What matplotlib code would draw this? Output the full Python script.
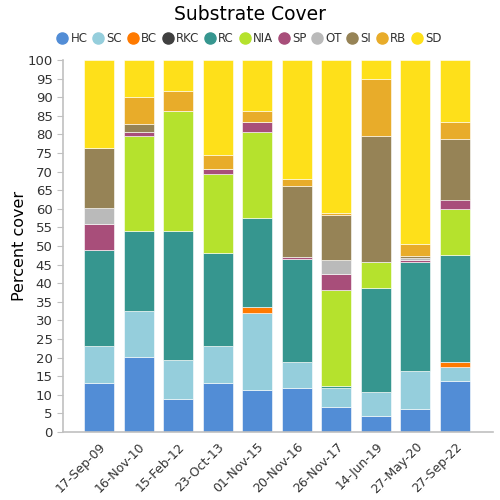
import numpy as np
import matplotlib.pyplot as plt

dates = ["17-Sep-09", "16-Nov-10", "15-Feb-12", "23-Oct-13", "01-Nov-15",
         "20-Nov-16", "26-Nov-17", "14-Jun-19", "27-May-20", "27-Sep-22"]

# percent cover per category, one value per survey date
HC  = [13.2, 20.2,  8.9, 13.2, 11.2, 11.9,  6.8,  4.4,  6.2, 13.8]
SC  = [ 9.9, 12.3, 10.5,  9.9, 20.8,  6.9,  5.1,  6.3, 10.1,  3.8]
BC  = [ 0.0,  0.0,  0.0,  0.0,  1.7,  0.0,  0.0,  0.0,  0.0,  1.1]
RKC = [ 0.0,  0.0,  0.0,  0.0,  0.0,  0.0,  0.0,  0.0,  0.0,  0.0]
RC  = [25.8, 21.5, 34.6, 25.1, 23.8, 27.6,  0.5, 28.1, 29.3, 28.8]
NIA = [ 0.0, 25.6, 32.3, 21.2, 23.1,  0.0, 25.8,  6.8,  0.0, 12.5]
SP  = [ 7.0,  1.1,  0.0,  1.2,  2.6,  0.6,  4.3,  0.0,  0.6,  2.5]
OT  = [ 4.3,  0.0,  0.0,  0.0,  0.0,  0.0,  3.7,  0.0,  0.6,  0.0]
SI  = [16.1,  2.0,  0.0,  0.0,  0.0, 19.2, 12.0, 33.9,  0.5, 16.3]
RB  = [ 0.0,  7.4,  5.5,  3.8,  3.0,  1.9,  0.6, 15.5,  3.3,  4.4]
SD  = [23.7, 10.0,  8.2, 25.6, 13.8, 31.9, 41.2,  5.0, 49.4, 16.8]

names = ["HC", "SC", "BC", "RKC", "RC", "NIA", "SP", "OT", "SI", "RB", "SD"]
series = [HC, SC, BC, RKC, RC, NIA, SP, OT, SI, RB, SD]
colors = ["#528dd6", "#95cedc", "#ff7a00", "#404040", "#36968f", "#b5e22d",
          "#a84e7a", "#bababa", "#968356", "#e8ac2a", "#fee01a"]

fig = plt.figure(figsize=(5, 5), dpi=100)
ax = fig.add_axes([0.126, 0.136, 0.86, 0.744])

x = np.arange(len(dates))
bottom = np.zeros(len(dates))
for name, vals, c in zip(names, series, colors):
    vals = np.array(vals)
    ax.bar(x, vals, 0.76, bottom=bottom, color=c, label=name,
           edgecolor="white", linewidth=0.4)
    bottom += vals

ax.set_xlim(-0.91, 9.96)
ax.set_ylim(0, 100)
ax.set_yticks(np.arange(0, 101, 5))
ax.set_xticks(x)
ax.set_xticklabels(dates, rotation=45, ha="right", rotation_mode="anchor",
                   fontsize=9, color="#333333")
ax.tick_params(axis="y", labelsize=9.5, length=4, color="#c0c0c0", labelcolor="#333333")
ax.tick_params(axis="x", length=0, pad=6)
for s in ["top", "right"]:
    ax.spines[s].set_visible(False)
for s in ["left", "bottom"]:
    ax.spines[s].set_color("#c0c0c0")
    ax.spines[s].set_linewidth(1.2)
ax.set_ylabel("Percent cover", fontsize=11.5, labelpad=0)

fig.suptitle("Substrate Cover", fontsize=13.5, y=0.99)
handles = [plt.Line2D([], [], marker="o", ls="", markersize=8, color=c) for c in colors]
fig.legend(handles, names, loc="upper center", bbox_to_anchor=(0.5, 0.945), ncol=11,
           frameon=False, fontsize=8.5, handlelength=0.7, handletextpad=0.35,
           columnspacing=0.55, borderaxespad=0, labelcolor="#333333")

fig.savefig("out.png", dpi=100)
